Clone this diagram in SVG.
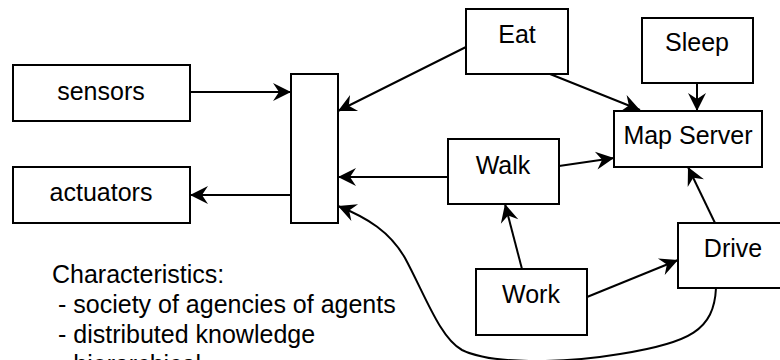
<svg xmlns="http://www.w3.org/2000/svg" width="780" height="360" viewBox="0 0 780 360">
<style>
rect{fill:#fff;stroke:#000;stroke-width:2}
text{font-family:"Liberation Sans",Arial,sans-serif;font-size:25px;fill:#000}
.c{text-anchor:middle}
.e{fill:none;stroke:#000;stroke-width:2;marker-end:url(#a)}
</style>
<defs>
<marker id="a" viewBox="-20 -10 22 20" refX="0" refY="0" markerWidth="22" markerHeight="20" orient="auto" markerUnits="userSpaceOnUse">
<path d="M0,0 L-18,-9 L-12,0 L-18,9 Z" fill="#000"/>
</marker>
</defs>
<rect x="0" y="0" width="780" height="360" style="stroke:none"/>
<g id="sensors"><rect x="13" y="65" width="177" height="56"/><text class="c" x="101" y="100">sensors</text></g>
<g id="actuators"><rect x="13" y="167" width="177" height="56"/><text class="c" x="101" y="201">actuators</text></g>
<g id="hub"><rect x="291" y="74" width="47" height="149"/></g>
<g id="eat"><rect x="466" y="9" width="102" height="65"/><text class="c" x="517" y="43">Eat</text></g>
<g id="sleep"><rect x="642" y="18" width="111" height="65"/><text class="c" x="697" y="51">Sleep</text></g>
<g id="mapserver"><rect x="614" y="111" width="148" height="56"/><text class="c" x="688" y="144">Map Server</text></g>
<g id="walk"><rect x="448" y="139" width="111" height="65"/><text class="c" x="503" y="174">Walk</text></g>
<g id="work"><rect x="476" y="269" width="111" height="66"/><text class="c" x="531" y="303">Work</text></g>
<g id="drive"><rect x="678" y="223" width="110" height="65"/><text class="c" x="733" y="257">Drive</text></g>
<g id="connectors">
<path class="e" d="M190,92 L291,92"/>
<path class="e" d="M291,195 L190,195"/>
<path class="e" d="M466,47 L338,111"/>
<path class="e" d="M448,177 L338,177"/>
<path class="e" d="M550,74 L640,110"/>
<path class="e" d="M697,83 L697,111"/>
<path class="e" d="M559,166 L614,158"/>
<path class="e" d="M522,269 L505,204"/>
<path class="e" d="M587,297 L678,260"/>
<path class="e" d="M715,223 L688,167"/>
<path class="e" d="M716,288 C714,330 690,343 620,354 C560,364 490,364 462,350 C440,338 425,295 405,258 C390,232 368,218 338,206"/>
</g>
<g id="notes">
<text x="52" y="283">Characteristics:</text>
<text x="58" y="313">- society of agencies of agents</text>
<text x="58" y="343">- distributed knowledge</text>
<text x="58" y="373">- hierarchical</text>
</g>
</svg>
